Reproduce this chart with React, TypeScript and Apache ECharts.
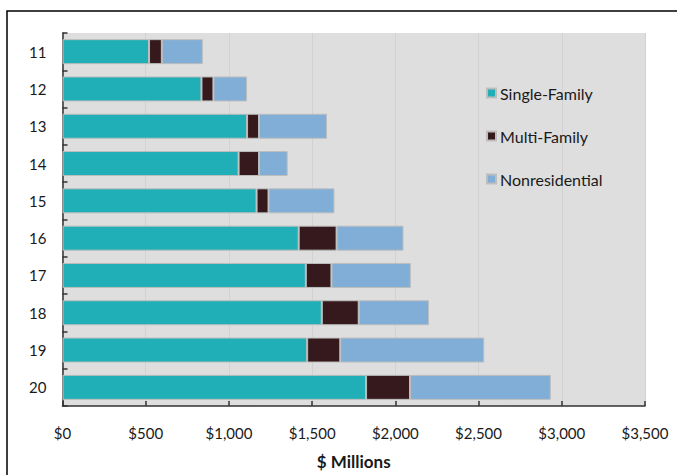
import React, { useEffect, useRef } from "react";
import * as echarts from "echarts";

const categories = ["11", "12", "13", "14", "15", "16", "17", "18", "19", "20"];
const singleFamily = [520, 835, 1109, 1058, 1166, 1419, 1462, 1558, 1470, 1824];
const multiFamily = [77, 72, 72, 123, 72, 228, 154, 222, 199, 264];
const nonresidential = [246, 202, 408, 172, 396, 402, 477, 422, 865, 846];
const xTicks = [0, 500, 1000, 1500, 2000, 2500, 3000, 3500];

const FONT = "Lato, 'Open Sans', sans-serif";

export default function App() {
  const ref = useRef<HTMLDivElement>(null);
  useEffect(() => {
    document.body.style.margin = "0";
    const chart = echarts.init(ref.current!, null, { renderer: "svg" });
    const barStyle = (color: string) => ({
      color,
      borderColor: "#bdbdbd",
      borderWidth: 1,
    });
    chart.setOption({
      animation: false,
      backgroundColor: "#ffffff",
      textStyle: { fontFamily: FONT },
      graphic: [
        {
          type: "rect",
          shape: { x: 7, y: 11, width: 700, height: 500 },
          style: { fill: "none", stroke: "#000", lineWidth: 1.5 },
          z: 100,
          silent: true,
        },
      ],
      grid: {
        left: 62.5,
        right: 32,
        top: 33,
        bottom: 66,
        show: true,
        backgroundColor: "#dedede",
        borderWidth: 0,
      },
      legend: {
        orient: "vertical",
        left: 481,
        top: 80,
        itemWidth: 9,
        itemHeight: 9,
        itemGap: 27,
        icon: "rect",
        textStyle: { fontSize: 16, color: "#1a1a1a", fontFamily: FONT, padding: [0, 0, 0, -1] },
        data: ["Single-Family", "Multi-Family", "Nonresidential"],
      },
      xAxis: {
        type: "value",
        min: 0,
        max: 3500,
        interval: 500,
        name: "$ Millions",
        nameLocation: "middle",
        nameGap: 47,
        nameTextStyle: { fontSize: 17, fontWeight: "bold", color: "#1a1a1a", fontFamily: FONT },
        axisLine: { show: true, lineStyle: { color: "#333", width: 1.5 } },
        axisTick: { show: true, inside: true, length: 5, lineStyle: { color: "#333", width: 1.5 } },
        axisLabel: {
          fontSize: 15,
          color: "#1a1a1a",
          margin: 19,
          fontFamily: FONT,
          formatter: (v: number) =>
            xTicks.includes(v) ? "$" + v.toLocaleString("en-US") : "",
        },
        splitLine: { show: true, lineStyle: { color: "#d2d2d2", width: 1 } },
      },
      yAxis: {
        type: "category",
        data: categories,
        inverse: true,
        axisLine: { show: true, lineStyle: { color: "#333", width: 1.5 } },
        axisTick: { show: true, inside: true, length: 5, lineStyle: { color: "#333", width: 1.5 } },
        axisLabel: { fontSize: 15, color: "#1a1a1a", margin: 16, fontFamily: FONT },
        splitLine: { show: false },
      },
      series: [
        {
          name: "Single-Family",
          type: "bar",
          stack: "total",
          barCategoryGap: "33%",
          data: singleFamily,
          itemStyle: barStyle("#20afb6"),
        },
        {
          name: "Multi-Family",
          type: "bar",
          stack: "total",
          data: multiFamily,
          itemStyle: barStyle("#35191c"),
        },
        {
          name: "Nonresidential",
          type: "bar",
          stack: "total",
          data: nonresidential,
          itemStyle: barStyle("#80aed6"),
        },
      ],
    });
    return () => chart.dispose();
  }, []);
  return <div ref={ref} style={{ width: 677, height: 475 }} />;
}
